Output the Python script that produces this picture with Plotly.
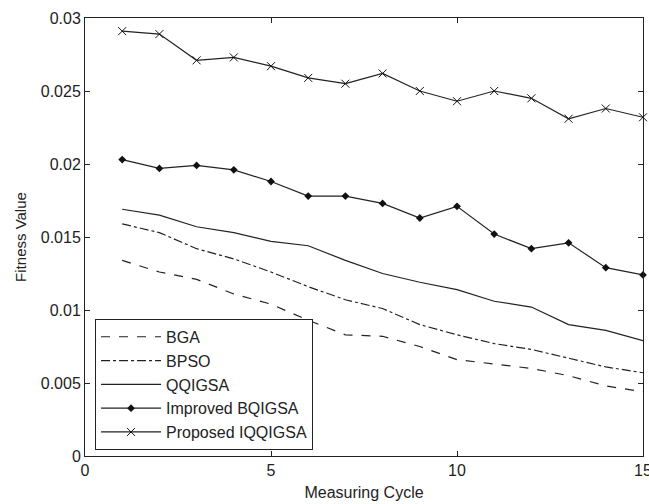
import plotly.graph_objects as go

cycles = list(range(1, 16))
bga = [0.0134, 0.0126, 0.0121, 0.0111, 0.0104, 0.0093, 0.0083, 0.0082, 0.0075, 0.0066, 0.0063, 0.0060, 0.0055, 0.0048, 0.0044]
bpso = [0.0159, 0.0153, 0.0142, 0.0135, 0.0126, 0.0116, 0.0107, 0.0101, 0.0090, 0.0083, 0.0077, 0.0073, 0.0067, 0.0061, 0.0057]
qqigsa = [0.0169, 0.0165, 0.0157, 0.0153, 0.0147, 0.0144, 0.0134, 0.0125, 0.0119, 0.0114, 0.0106, 0.0102, 0.0090, 0.0086, 0.0079]
improved = [0.0203, 0.0197, 0.0199, 0.0196, 0.0188, 0.0178, 0.0178, 0.0173, 0.0163, 0.0171, 0.0152, 0.0142, 0.0146, 0.0129, 0.0124]
proposed = [0.0291, 0.0289, 0.0271, 0.0273, 0.0267, 0.0259, 0.0255, 0.0262, 0.0250, 0.0243, 0.0250, 0.0245, 0.0231, 0.0238, 0.0232]

names = ["BGA", "BPSO", "QQIGSA", "Improved BQIGSA", "Proposed IQQIGSA"]
series = [bga, bpso, qqigsa, improved, proposed]
dashes = ["dash", "dashdot", "solid", "solid", "solid"]
modes = ["lines", "lines", "lines", "lines+markers", "lines+markers"]
markers = [None, None, None, dict(symbol="diamond", size=6, color="#111"),
           dict(symbol="x-thin", size=8, line=dict(width=1, color="#111"), color="#111")]

yticks = [0, 0.005, 0.01, 0.015, 0.02, 0.025, 0.03]
yticklabels = ["0", "0.005", "0.01", "0.015", "0.02", "0.025", "0.03"]
xticks = [0, 5, 10, 15]

FONT = "Liberation Sans, Arial, sans-serif"

fig = go.Figure()
for name, vals, dash, mode, mk in zip(names, series, dashes, modes, markers):
    kw = dict(x=cycles, y=vals, name=name, mode=mode, legendgroup=name,
              cliponaxis=False,
              line=dict(color="#222", width=1.2, dash=dash))
    if mk is not None:
        kw["marker"] = mk
    fig.add_trace(go.Scatter(**kw))

fig.update_layout(
    width=649, height=504,
    margin=dict(l=85, r=6, t=18, b=48),
    paper_bgcolor="white", plot_bgcolor="white",
    font=dict(family=FONT, size=16, color="#222"),
    showlegend=True,
    legend=dict(x=0.018, y=0.014, xanchor="left", yanchor="bottom",
                bordercolor="#222", borderwidth=1, bgcolor="white",
                font=dict(size=16), traceorder="grouped", tracegroupgap=0,
                itemwidth=60),
)
fig.update_xaxes(range=[0, 15], tickvals=xticks, ticks="inside", ticklen=5,
                 tickcolor="#222", showline=True, linecolor="#222", linewidth=1,
                 mirror="ticks", showgrid=False, zeroline=False, automargin=False,
                 ticklabeloverflow="allow",
                 title=dict(text="Measuring Cycle", font=dict(size=16), standoff=8))
fig.update_yaxes(range=[0, 0.03], tickvals=yticks, ticktext=yticklabels, ticks="inside",
                 ticklen=5, tickcolor="#222", showline=True, linecolor="#222", linewidth=1,
                 mirror="ticks", showgrid=False, zeroline=False, automargin=False,
                 title=dict(text="Fitness Value", font=dict(size=15), standoff=10))

fig.write_html("out.html", config={"displayModeBar": False},
               post_script="document.body.style.margin='0';")
